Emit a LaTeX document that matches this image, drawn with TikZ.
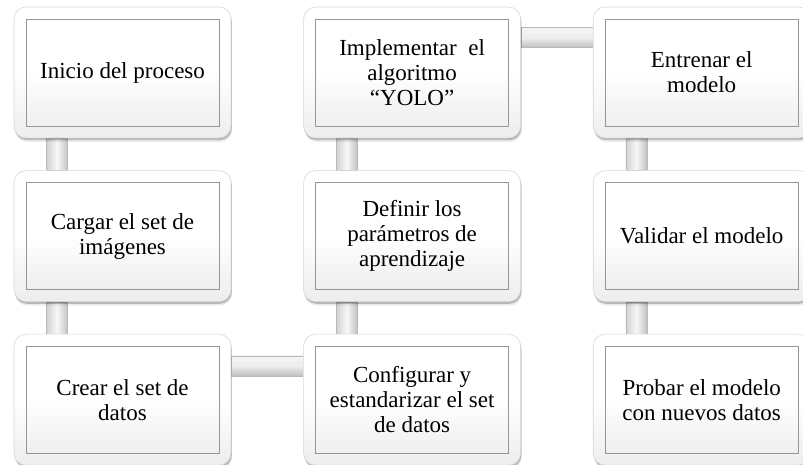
\documentclass[tikz,border=0pt]{standalone}
\usepackage{fontspec}
\setmainfont{Liberation Serif}
\usetikzlibrary{positioning,shadows,backgrounds,calc}
\definecolor{cborde}{RGB}{214,214,214}
\definecolor{cmarco}{RGB}{150,150,150}
\definecolor{cbarra}{RGB}{185,185,185}

\begin{document}
\begin{tikzpicture}[x=1pt,y=1pt,line cap=round,
  tarjeta/.style={draw=cborde,line width=.6pt,top color=white,bottom color=gray!14,middle color=white,
    rounded corners=12pt,minimum width=217pt,minimum height=131pt,inner sep=0pt,
    align=center,font=\fontsize{23}{25}\selectfont,
    drop shadow={shadow xshift=.8pt,shadow yshift=-2.2pt,fill=black,opacity=.22},
    drop shadow={shadow xshift=1.2pt,shadow yshift=-4pt,fill=black,opacity=.08},
    path picture={
      \shade[sharp corners,top color=white,bottom color=gray!16,middle color=white]
        ([shift={(12pt,12pt)}]path picture bounding box.south west) rectangle
        ([shift={(-12pt,-12pt)}]path picture bounding box.north east);
      \draw[sharp corners,cmarco,line width=.7pt]
        ([shift={(12pt,12pt)}]path picture bounding box.south west) rectangle
        ([shift={(-12pt,-12pt)}]path picture bounding box.north east);}},
  barrav/.style={draw=cbarra,line width=.5pt,left color=gray!35,right color=gray!48,middle color=gray!6},
  barrah/.style={draw=cbarra,line width=.5pt,top color=gray!8,bottom color=gray!50,middle color=gray!14}]
\useasboundingbox (0,0) rectangle (803,465);
% ---------- column 1 ----------
\node[tarjeta] (inicio) at (122.5,392.5) {Inicio del proceso};
\node[tarjeta,below=32pt of inicio] (cargar) {Cargar el set de\\im\'agenes};
\node[tarjeta,below=32pt of cargar] (crear) {Crear el set de\\datos};
% ---------- column 2 ----------
\node[tarjeta,right=72pt of crear] (configurar) {Configurar y\\estandarizar el set\\de datos};
\node[tarjeta,above=32pt of configurar] (definir) {Definir los\\par\'ametros de\\aprendizaje};
\node[tarjeta,above=32pt of definir] (implementar) {Implementar\ \ el\\algoritmo\\``YOLO''};
% ---------- column 3 ----------
\node[tarjeta,right=72pt of implementar] (entrenar) {Entrenar el\\modelo};
\node[tarjeta,below=32pt of entrenar] (validar) {Validar el modelo};
\node[tarjeta,below=32pt of validar] (probar) {Probar el modelo\\con nuevos datos};
% ---------- connecting bars ----------
\begin{scope}[on background layer]
  \shade[barrav] ([xshift=33pt]inicio.south west) rectangle ([xshift=54pt]cargar.north west);
  \shade[barrav] ([xshift=33pt]cargar.south west) rectangle ([xshift=54pt]crear.north west);
  \shade[barrah] ([yshift=-22pt]crear.north east) rectangle ([yshift=-42pt]configurar.north west);
  \shade[barrav] ([xshift=33pt]definir.south west) rectangle ([xshift=54pt]configurar.north west);
  \shade[barrav] ([xshift=33pt]implementar.south west) rectangle ([xshift=54pt]definir.north west);
  \shade[barrah] ([yshift=-21pt]implementar.north east) rectangle ([yshift=-41pt]entrenar.north west);
  \shade[barrav] ([xshift=33pt]entrenar.south west) rectangle ([xshift=54pt]validar.north west);
  \shade[barrav] ([xshift=33pt]validar.south west) rectangle ([xshift=54pt]probar.north west);
\end{scope}
\end{tikzpicture}
\end{document}
